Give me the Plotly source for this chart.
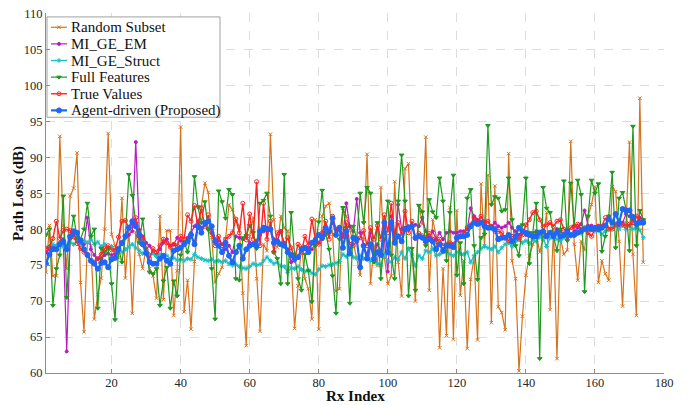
import plotly.graph_objects as go

rx_index = list(range(1, 175))

random_subset = [
    74, 80.5, 73.5, 73.5, 92.9, 80.5, 74.5, 84.6, 85.7, 90.6,
    72.6, 65.7, 78.2, 77.7, 67.5, 70.9, 73.2, 80, 93.3, 79.3,
    77.7, 76, 84.3, 73.2, 80, 68.3, 79.6, 76.5, 74.5,
    77.5, 74.5, 73.5, 70.4, 81.8, 70.2, 79.8, 79.8, 68, 74.2,
    94.2, 68.5, 72.9, 66.1, 75.5, 80.5, 83.1, 86.4, 85.1, 78.8,
    72.6, 73.8, 74.7, 78.6, 83.4, 82.7, 81.3, 80.4, 71.1, 63.8,
    79, 81.6, 73.1, 65.8, 77.9, 77, 93.2, 81.3, 77.5, 81.8,
    80.2, 79.7, 75.6, 66.2, 72.1, 77.7, 73.1, 71.7, 67.5, 81.3,
    66.1, 81.8, 83.2, 83.6, 79.3, 71.4, 71.7, 82.9, 81.8, 80,
    78.1, 75.9, 73.6, 78.6, 90.4, 72.4, 77.7, 74.9, 85.8, 76.1,
    72.4, 73.5, 86.6, 75.4, 70.7, 88.4, 89.1, 76.8, 70, 83.3,
    80.7, 92.8, 71.5, 81.3, 79.1, 63.5, 74.5, 65.2,
    83, 64.7, 82.6, 70.8, 75.6, 63.4, 73, 76.1, 64.6, 86.3,
    77.7, 87.5, 67, 86, 69.2, 68.4, 66, 90.5, 75.6, 73.1,
    60.3, 67.9, 73.6, 76.3, 77.9, 79.3, 76.8, 78.6, 82.3, 68.8,
    80, 62, 78.8, 76.5, 77.1, 92.2, 77.9, 72.9, 78.3, 77.1,
    81.8, 83.4, 85.9, 72.6, 75.6, 73.8, 72.9, 85.9, 85.2, 78.3,
    69.3, 80.9, 92.1, 76.5, 68, 98.2, 75.4,
]

mi_ge_em = [
    76.8, 77.2, 77.5, 77.7, 77.9, 78.6, 63, 79, 79.2, 78.6,
    78.1, 77.9, 81.6, 77.2, 76.4, 75.9, 75.9, 76.4, 76.6, 76.4,
    76.6, 77.4, 77.9, 78.8, 79.2, 79.7, 92.1, 79.9, 79,
    78.1, 77.7, 76.8, 76.4, 77.2, 78.1, 78.6, 77.7, 77.9, 78.8,
    78.4, 77.9, 78.8, 79.5, 80.4, 81.1, 80.2, 80.6, 80.0, 79.5,
    78.6, 78.4, 77.9, 77.2, 77.7, 76.8, 79, 78.8, 78.6, 79.0,
    78.1, 77.9, 78.4, 79.2, 79.7, 80.2, 79.9, 78.6, 78.4, 79.7,
    78.1, 77.2, 75.4, 75.6, 76.1, 77, 77.2, 77.4, 77.2, 77.9,
    78.1, 78.6, 79.2, 79.5, 80.9, 80, 80.2, 79.2, 83.6, 80.4,
    79.7, 84.2, 79.5, 77.7, 76.4, 79.5, 76.4, 77.9, 77, 78.6,
    74.1, 81.8, 78.6, 83.4, 80, 80.2, 80.4, 80.6, 80.6, 80.4,
    81.6, 79.7, 78.8, 79.7, 78.6, 79.5, 78.6, 79.5,
    79.7, 79.5, 79.5, 79.7, 79.7, 80, 82.9, 81.8, 81.3, 80.9,
    81.1, 80.2, 80.4, 80.9, 80.4, 80.2, 80.4, 80.9, 80.2, 79.7,
    79.2, 79.7, 79.2, 79.5, 78.8, 79.7, 79.5, 78.8, 79.2, 79.5,
    79.2, 80, 79.7, 79.2, 78.8, 79.2, 79.7, 80.2, 80.7, 82.6,
    80.5, 80.5, 80, 80.5, 80.2, 80.5, 81.8, 80.9, 80.7, 80.5,
    80.9, 82.1, 81.8, 81.3, 80.9, 81.6, 81.3,
]

mi_ge_struct = [
    77.4, 77.6, 77.9, 77.7, 78.1, 77.5, 77.8, 78.2, 77.9, 78.3,
    78.0, 78.4, 78.1, 78.6, 77.9, 78.2, 77.6, 77.9, 77.3, 77.6,
    77.0, 77.3, 76.8, 77.2, 77.5, 77.9, 77.4, 77.0, 76.6,
    76.8, 76.5, 76.6, 76.2, 76.5, 76.1, 76.3, 75.9, 76.0, 75.7,
    75.8, 75.6, 75.9, 75.8, 76.5, 76.1, 75.9, 75.7, 75.6, 75.8,
    75.5, 75.6, 75.4, 75.6, 75.2, 75.0, 75.1, 74.8, 74.6, 74.5,
    74.8, 75.2, 75.0, 75.1, 75.6, 76.1, 75.6, 75.2, 75.4, 74.9,
    74.8, 74.0, 74.6, 74.5, 74.8, 74.4, 74.1, 74.3, 73.9, 73.7,
    74.4, 74.9, 74.8, 75.0, 75.1, 75.3, 75.5, 76.5, 76.2, 76.8,
    76.1, 76.0, 76.3, 75.9, 76.1, 75.6, 75.9, 75.2, 75.0, 76.5,
    75.6, 75.4, 76.1, 75.8, 76.8, 75.9, 77.3, 76.3, 74.9, 76.3,
    75.9, 77.0, 76.8, 77.3, 76.3, 76.5, 76.8, 76.9,
    76.5, 76.3, 76.8, 76.6, 76.5, 76.8, 75.4, 76.3, 76.8, 77.3,
    77.6, 77.4, 77.2, 77.6, 76.8, 77.4, 77.9, 78.1, 77.6, 78.3,
    78.6, 78.1, 78.4, 78.0, 78.6, 78.3, 78.9, 78.6, 77.6, 78.8,
    78.8, 78.6, 78.4, 78.8, 79.1, 79.0, 79.3, 79.5, 79.4, 80.0,
    79.8, 80.0, 79.7, 79.8, 79.3, 79.7, 80.0, 80.2, 80.5, 80.0,
    80.5, 80.0, 80.5, 80.0, 80.2, 79.9, 78.8,
]

full_features = [
    79.2, 80, 69.4, 74.5, 76.4, 84.6, 70.5, 78.6, 81.8, 78.8,
    78.6, 80, 83.6, 79, 80, 69, 77.3, 76.8, 77.3, 72.4,
    67.4, 77.3, 75.4, 79, 87.6, 84.7, 80.8, 78.1, 81.4,
    77.3, 74, 73.8, 74.5, 69.4, 72.8, 74.7, 69, 72.8, 70.7,
    76.4, 78.3, 76.8, 79.1, 87.3, 83.1, 80.9, 83.8, 79.9, 74.5,
    67.5, 85.3, 83.8, 81.5, 85.5, 84.8, 73.1, 72.9, 78.8, 79.1,
    80.5, 79.5, 77.3, 83.6, 84, 85, 81.8, 76.8, 75.9, 72.4,
    87.6, 72.4, 82.3, 76.5, 73.1, 71.5, 76.5, 74.2, 69.9, 77.7,
    81, 85.4, 79.5, 77.2, 73.5, 68.3, 78.6, 83, 80.2, 69.7,
    80.4, 78.6, 85, 80.9, 85.8, 85, 75.4, 80.9, 73.1, 79.5,
    83.9, 76.4, 73.1, 83.9, 90.3, 83.9, 70.7, 77.3, 71.5, 83.3,
    82.4, 77.7, 84.1, 82.4, 81.6, 87.1, 83.9, 75.6,
    82.3, 87.5, 73.6, 78.1, 72.4, 84.3, 85.5, 77.7, 73, 78.8,
    79.3, 94.4, 83.4, 84.5, 84.3, 82.5, 82.7, 87.1, 81.3, 77.7,
    76.3, 80.6, 87.1, 75.2, 79.5, 83.6, 62, 85.8, 82.9, 82.3,
    79, 77, 80, 86.7, 78.4, 86.4, 80.4, 86.8, 84.8, 71.3,
    81.8, 86.8, 85, 86.3, 76.9, 79, 81.8, 87.9, 77.4, 84.3,
    85.1, 82.7, 77, 94.3, 77.7, 82.6, 81.3,
]

true_values = [
    77.3, 77.5, 78.7, 81.1, 78.7, 79.8, 80, 79.8, 78.9, 78,
    77.3, 76.8, 76.5, 75.6, 75.4, 75.9, 76.5, 77.3, 77.7, 77.1,
    77.1, 78.9, 81.1, 81.2, 80.2, 80.8, 81.6, 79, 78.8,
    77.1, 75.9, 77.3, 76.8, 77.7, 78.6, 78.1, 77.5, 77.9, 77.7,
    79, 78.6, 82, 81.1, 83.3, 80.4, 82.9, 80.4, 82, 79.5,
    77.7, 79, 77.7, 78.6, 79, 79.5, 81.4, 79.5, 83.6, 78.5,
    82.1, 78.6, 86.6, 77.7, 83.6, 78.6, 81.1, 76.8, 79.5, 79.7,
    77.7, 78.8, 77.4, 75.9, 77.9, 76.8, 79, 77.7, 81.4, 78.6,
    77.9, 79.5, 81.1, 78.6, 81.8, 80, 80.2, 78.6, 80.9, 77.9,
    77.7, 78.3, 78.8, 79.8, 77.7, 80.2, 78.6, 80.5, 78.6, 82,
    79.5, 83.6, 79.2, 80.9, 79.1, 82.5, 79.5, 81.1, 78.7, 79.4,
    79.1, 78.8, 79.4, 78.6, 78.3, 78.6, 77.7, 77.9,
    78.1, 77.9, 78.6, 79, 79.5, 80.2, 80.6, 81.6, 80.9, 81.8,
    80.9, 81.1, 80.4, 79.7, 79.7, 79.5, 78.8, 78.4, 79, 78.8,
    78.6, 79.2, 80.6, 81.3, 82.3, 82.5, 81.3, 80.4, 80.6, 80.9,
    80.4, 81.1, 81.3, 80, 79.7, 80.2, 80.4, 80.7, 80, 80.2,
    79.5, 79.0, 80, 80.2, 80.4, 81.6, 80, 80, 80.7, 80.9,
    80.7, 80.4, 80.7, 80.9, 81.8, 81.3, 81.1,
]

agent_driven = [
    75.2, 76.5, 77.2, 77.2, 77.9, 78.3, 77.2, 79, 79.7, 79.5,
    78.4, 77.2, 76.4, 75.6, 75.2, 74.5, 75.3, 75.4, 74.7, 75.8,
    76, 77.2, 78.1, 79, 80.2, 81.1, 80.4, 79.2, 77.9,
    76.7, 75.4, 75.2, 75.2, 75.9, 76.3, 75.6, 75.2, 77, 77.2,
    77.4, 77.9, 78.3, 79.2, 77.9, 80.4, 79.5, 80.9, 81.1, 80.4,
    78.3, 77.7, 76.8, 78.1, 76.3, 75.4, 76.8, 77.7, 75.9, 77.2,
    77.7, 77.9, 77.7, 79.7, 80.2, 80, 80, 78.1, 78.3, 77.9,
    77.7, 76.8, 76.4, 75.9, 76.1, 77.2, 77.4, 76.8, 78.1, 78.4,
    79.2, 78.8, 80.2, 79.7, 81.5, 79.2, 80.2, 77.4, 79.7, 76.6,
    78.8, 78.6, 74.7, 77.7, 75.9, 77.9, 75.9, 76.8, 76.4, 80.9,
    76.8, 80.9, 78.1, 79, 78.3, 80, 80.2, 80.4, 78.8, 79,
    78.8, 78.3, 78.6, 78.3, 77.2, 77.9, 77, 77.7,
    77.7, 77.5, 78.8, 79, 79, 79.2, 80.4, 80.9, 80.7, 80.9,
    80.4, 80.2, 80.2, 80, 78.6, 78.8, 78.8, 79.2, 78.3, 79,
    80.2, 79.7, 79.5, 79.2, 79, 79, 79.5, 79.7, 79, 79.5,
    79.0, 79.5, 79.0, 79.2, 79.7, 79.2, 79.2, 79.5, 79.7, 80,
    80.2, 80, 80.2, 80, 80.2, 80.5, 81.4, 80.9, 82.1, 80.9,
    82.8, 82.6, 82.6, 81.7, 80.7, 80.9, 80.9,
]

series_names = ["Random Subset", "MI_GE_EM", "MI_GE_Struct",
                "Full Features", "True Values", "Agent-driven (Proposed)"]
series_values = [random_subset, mi_ge_em, mi_ge_struct,
                 full_features, true_values, agent_driven]

x_ticks = [20, 40, 60, 80, 100, 120, 140, 160, 180]
y_ticks = [60, 65, 70, 75, 80, 85, 90, 95, 100, 105, 110]

styles = [
    dict(color="#D6741E", lw=1.2, sym="x-thin", ms=3.5),
    dict(color="#B81CC0", lw=1.2, sym="circle", ms=3),
    dict(color="#1CC0C6", lw=1.4, sym="asterisk", ms=4),
    dict(color="#1E9A1E", lw=1.2, sym="triangle-down", ms=4),
    dict(color="#FF2222", lw=1.4, sym="circle-open", ms=4),
    dict(color="#1E66F5", lw=2.2, sym="circle", ms=5),
]

# layout geometry (pixels)
W, H = 694, 405
L, R, T, B = 46, 30, 7, 32
PW, PH = W - L - R, H - T - B


def px_x(px):
    return (px - L) / PW


def px_y(py):
    return (H - B - py) / PH


fig = go.Figure()
for name, vals, st in zip(series_names, series_values, styles):
    fig.add_trace(go.Scatter(
        x=rx_index, y=vals, name=name, mode="lines+markers",
        line=dict(color=st["color"], width=st["lw"]),
        marker=dict(symbol=st["sym"], size=st["ms"], color=st["color"],
                    line=dict(color=st["color"], width=1)),
        showlegend=False,
    ))

# custom legend drawn on an overlay axis pair spanning the plot area
bx0, bx1, by0, by1 = 47, 220, 11, 113
fig.add_trace(go.Scatter(
    x=[px_x(bx0), px_x(bx1), px_x(bx1), px_x(bx0), px_x(bx0)],
    y=[px_y(by0), px_y(by0), px_y(by1), px_y(by1), px_y(by0)],
    xaxis="x2", yaxis="y2", mode="lines", fill="toself",
    fillcolor="white", line=dict(color="#a0a0a0", width=1),
    hoverinfo="skip", showlegend=False,
))

font_family = "Liberation Serif"
annotations = []
row0, row_step = 21.5, 16.9
for i, (name, st) in enumerate(zip(series_names, styles)):
    yc = row0 + i * row_step
    fig.add_trace(go.Scatter(
        x=[px_x(51), px_x(67)], y=[px_y(yc), px_y(yc)],
        xaxis="x2", yaxis="y2", mode="lines",
        line=dict(color=st["color"], width=st["lw"]),
        hoverinfo="skip", showlegend=False,
    ))
    fig.add_trace(go.Scatter(
        x=[px_x(59)], y=[px_y(yc)],
        xaxis="x2", yaxis="y2", mode="markers",
        marker=dict(symbol=st["sym"], size=st["ms"], color=st["color"],
                    line=dict(color=st["color"], width=1)),
        hoverinfo="skip", showlegend=False,
    ))
    annotations.append(dict(
        text=name, xref="paper", yref="paper", x=px_x(69), y=px_y(yc),
        xanchor="left", yanchor="middle", showarrow=False,
        font=dict(family=font_family, size=15, color="#111111"),
    ))

annotations.append(dict(
    text="<b>Rx Index</b>", xref="paper", yref="paper",
    x=0.5, y=px_y(396.5), xanchor="center", yanchor="middle", showarrow=False,
    font=dict(family=font_family, size=15, color="#111111"),
))
annotations.append(dict(
    text="<b>Path Loss (dB)</b>", xref="paper", yref="paper",
    x=px_x(18), y=0.5, xanchor="center", yanchor="middle", showarrow=False,
    textangle=-90,
    font=dict(family=font_family, size=15, color="#111111"),
))

axis_common = dict(
    showgrid=True, gridcolor="#dcdcdc", griddash="dash", gridwidth=1,
    showline=True, linecolor="#8c8c8c", linewidth=1,
    ticks="inside", ticklen=4, tickcolor="#8c8c8c",
    zeroline=False, mirror=False,
    tickfont=dict(family=font_family, size=12.5, color="#262626"),
)

fig.update_layout(
    width=W, height=H,
    margin=dict(l=L, r=R, t=T, b=B),
    plot_bgcolor="white", paper_bgcolor="white",
    font=dict(family=font_family, size=13, color="#262626"),
    showlegend=False,
    xaxis=dict(range=[1, 180], tickvals=x_ticks, ticklabelstandoff=-2,
               **axis_common),
    yaxis=dict(range=[60, 110.05], tickvals=y_ticks, **axis_common),
    xaxis2=dict(range=[0, 1], overlaying="x", visible=False,
                fixedrange=True),
    yaxis2=dict(range=[0, 1], overlaying="y", visible=False,
                fixedrange=True),
    annotations=annotations,
)

fig.write_html(
    "out.html",
    config={"displayModeBar": False},
    post_script="document.body.style.margin='0px';"
                "document.body.style.overflow='hidden';",
)
